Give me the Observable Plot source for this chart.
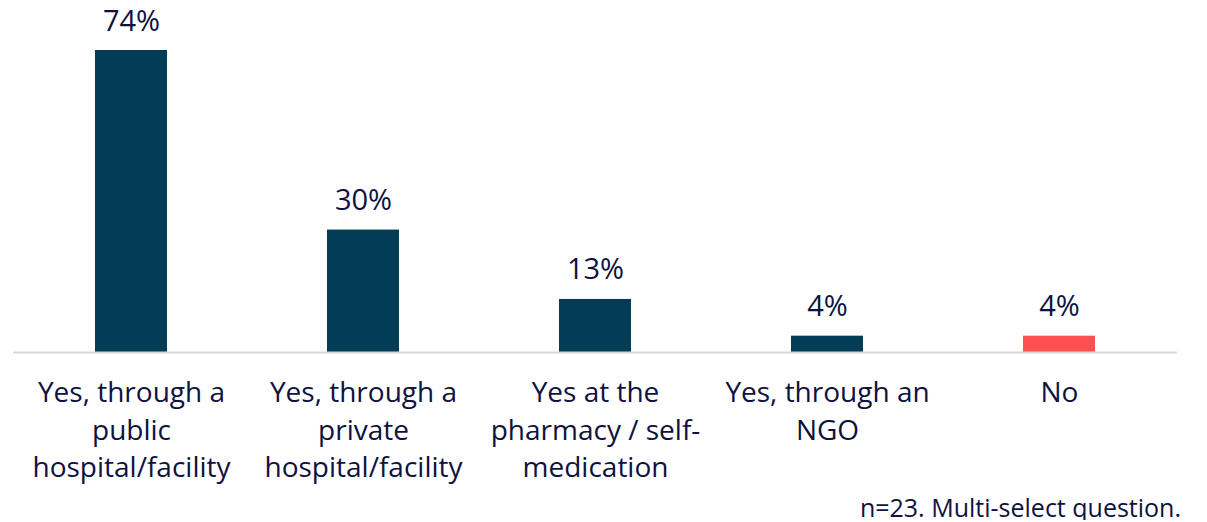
<!DOCTYPE html>
<html>
<head>
<meta charset="utf-8">
<script src="https://cdn.jsdelivr.net/npm/d3@7"></script>
<script src="https://cdn.jsdelivr.net/npm/@observablehq/plot@0.6"></script>
<style>
  html, body { margin: 0; padding: 0; background: #fff; }
  #chart { width: 1207px; height: 494px; }
  #caption { width: 1181px; text-align: right; font-family: "Open Sans", "Noto Sans", sans-serif; font-size: 25px; color: #0E1240; line-height: 26px; }
</style>
</head>
<body>
<div id="chart"></div>
<div id="caption">n=23. Multi-select question.</div>
<script>
const categories = [
  "Yes, through a\npublic\nhospital/facility",
  "Yes, through a\nprivate\nhospital/facility",
  "Yes at the\npharmacy / self-\nmedication",
  "Yes, through an\nNGO",
  "No"
];
const values = [74, 30, 13, 4, 4];
const groups = ["yes", "yes", "yes", "yes", "no"];

const data = categories.map((c, i) => ({category: c, value: values[i], group: groups[i]}));
const textColor = "#0E1240";

const plot = Plot.plot({
  width: 1207,
  height: 494,
  marginLeft: 13,
  marginRight: 30,
  marginTop: 0,
  marginBottom: 0,
  style: {fontFamily: "'Open Sans', 'Noto Sans', sans-serif", background: "#fff"},
  x: {domain: categories, paddingInner: 0.69, paddingOuter: 0.345, axis: null},
  y: {domain: [0, 74], range: [352, 50], axis: null},
  color: {domain: ["yes", "no"], range: ["#023C55", "#FF5050"]},
  marks: [
    Plot.barY(data, {x: "category", y: "value", fill: "group"}),
    Plot.ruleY([0], {stroke: "#D9D9D9", strokeWidth: 2}),
    Plot.text(data, {x: "category", y: "value", text: d => d.value + "%", lineAnchor: "bottom", dy: -20, fontSize: 29, fill: textColor}),
    Plot.text(data, {x: "category", y: () => 0, text: "category", lineAnchor: "top", dy: 23, fontSize: 28, lineHeight: 1.34, fill: textColor, textAnchor: "middle"})
  ]
});
document.getElementById("chart").appendChild(plot);
</script>
</body>
</html>
